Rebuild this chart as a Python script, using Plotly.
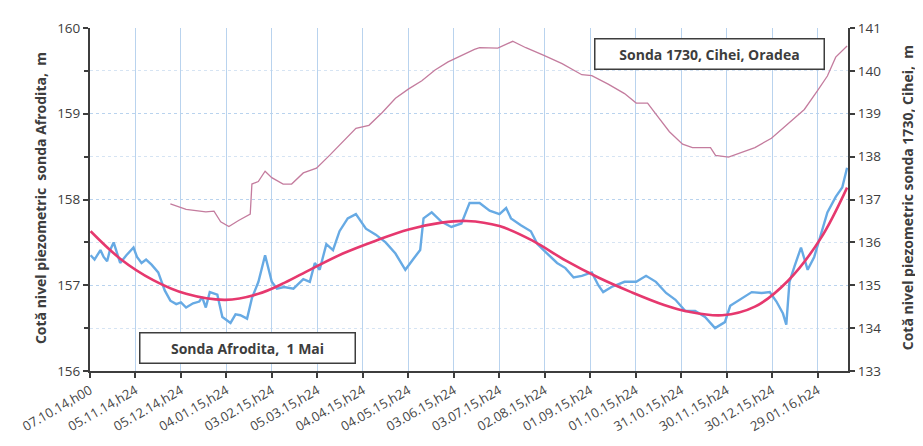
import plotly.graph_objects as go

# ---- data (x = days since 07.10.14 h00) ----
tick_days = [0, 30, 60, 90, 120, 150, 180, 210, 240, 270, 300, 330, 360, 390, 420, 450, 480]
tick_labels = ["07.10.14,h00", "05.11.14,h24", "05.12.14,h24", "04.01.15,h24", "03.02.15,h24",
               "05.03.15,h24", "04.04.15,h24", "04.05.15,h24", "03.06.15,h24", "03.07.15,h24",
               "02.08.15,h24", "01.09.15,h24", "01.10.15,h24", "31.10.15,h24", "30.11.15,h24",
               "30.12.15,h24", "29.01.16,h24"]

afrodita_days = [0.4, 3, 6.9, 9, 11.3, 13, 15.6, 18, 19.9, 24, 28.7, 31, 34, 37, 40.6, 45, 47, 49.3,
                 53, 56.9, 60, 63.4, 68, 72.1, 74, 76.4, 79, 84, 87.3, 90, 92.7, 96, 99.2, 103.6,
                 106.8, 111.1, 115.5, 119.9, 123.3, 128, 134.2, 140.7, 145, 148.3, 151.5, 155.9,
                 160.3, 164.6, 170, 175.4, 182, 188.5, 195, 201.5, 208, 213.4, 217.8, 220, 225.4,
                 231.9, 238.4, 245, 250.4, 257, 263.6, 270.1, 274.5, 277.7, 284.2, 290.8, 295.1,
                 301.6, 308.1, 313.6, 319, 324.4, 331, 335.3, 338.5, 344, 352.6, 360.3, 366.8,
                 373.3, 380, 386.2, 392.7, 399.2, 405.7, 412.3, 418.8, 422.3, 430, 436.5, 443,
                 448.4, 452.8, 457.1, 459.3, 461.4, 464.7, 469, 473.4, 477.7, 482.1, 486.4, 491.9,
                 496.2, 499.4]
afrodita_vals = [157.35, 157.30, 157.41, 157.33, 157.28, 157.40, 157.50, 157.36, 157.26, 157.35, 157.44,
                 157.33, 157.26, 157.30, 157.24, 157.15, 157.05, 156.94, 156.82, 156.78, 156.80,
                 156.74, 156.79, 156.81, 156.86, 156.74, 156.92, 156.89, 156.63, 156.60, 156.56,
                 156.66, 156.65, 156.61, 156.85, 157.04, 157.35, 157.04, 156.96, 156.98, 156.96,
                 157.07, 157.04, 157.26, 157.18, 157.48, 157.41, 157.63, 157.78, 157.83, 157.66,
                 157.59, 157.50, 157.37, 157.18, 157.31, 157.41, 157.78, 157.85, 157.74, 157.68,
                 157.72, 157.96, 157.96, 157.87, 157.83, 157.90, 157.78, 157.70, 157.63, 157.48,
                 157.37, 157.26, 157.20, 157.09, 157.11, 157.15, 157.00, 156.92, 156.98, 157.04,
                 157.04, 157.11, 157.04, 156.91, 156.83, 156.70, 156.70, 156.63, 156.50, 156.57,
                 156.76, 156.85, 156.92, 156.91, 156.92, 156.81, 156.67, 156.54, 157.04, 157.22,
                 157.44, 157.18, 157.33, 157.59, 157.85, 158.03, 158.14, 158.37]

trend_days = [0.4, 19.9, 41.7, 63.4, 89.4, 111.1, 128.5, 145, 166.8, 188.5, 210.2, 231.9, 248.4,
              270.1, 291.9, 313.6, 335.3, 357, 378.7, 395.2, 417, 438.6, 460.3, 482.1, 499.4]
trend_vals = [157.63, 157.31, 157.06, 156.90, 156.83, 156.90, 157.03, 157.18, 157.37, 157.52, 157.65,
              157.73, 157.75, 157.69, 157.52, 157.29, 157.09, 156.92, 156.77, 156.69, 156.65, 156.75,
              157.05, 157.55, 158.14]

cihei_days = [53, 63.4, 76.4, 81.8, 86.2, 91.6, 98, 105.7, 106.8, 111, 115.5, 119.9, 127.4, 133,
              140.7, 149.4, 158, 166.8, 175.4, 184, 192.8, 201.5, 210.2, 218.9, 227.6, 236.2, 245,
              253.6, 257, 269, 278.8, 287.5, 299.4, 311.4, 324.4, 331, 341.8, 352.6, 360.3, 367.8,
              373.3, 382.2, 390.9, 397.4, 409.3, 412.6, 421.2, 430, 438.6, 449.5, 460.3, 471.2,
              479.9, 486.4, 491.9, 497.3, 499.4]
cihei_vals = [136.90, 136.77, 136.71, 136.73, 136.48, 136.37, 136.51, 136.66, 137.36, 137.42, 137.66,
              137.51, 137.36, 137.36, 137.62, 137.73, 138.03, 138.36, 138.66, 138.73, 139.03, 139.36,
              139.58, 139.77, 140.02, 140.21, 140.36, 140.50, 140.54, 140.53, 140.69, 140.54, 140.36,
              140.17, 139.91, 139.89, 139.69, 139.47, 139.25, 139.25, 138.99, 138.58, 138.29, 138.21,
              138.21, 138.03, 137.99, 138.10, 138.21, 138.43, 138.77, 139.10, 139.54, 139.88, 140.32,
              140.50, 140.58]

font_family = "Open Sans, Noto Sans, sans-serif"
axis_col = "#3d3d3d"
grid_col = "#b9d3ee"

fig = go.Figure()
fig.add_trace(go.Scatter(x=cihei_days, y=cihei_vals, yaxis="y2", mode="lines",
                         line=dict(color="#c47c9e", width=1.3), name="Sonda 1730"))
fig.add_trace(go.Scatter(x=afrodita_days, y=afrodita_vals, mode="lines",
                         line=dict(color="#67aae4", width=2.4), name="Sonda Afrodita"))
fig.add_trace(go.Scatter(x=trend_days, y=trend_vals, mode="lines",
                         line=dict(color="#e6386e", width=2.6, shape="spline", smoothing=1.0),
                         name="trend"))

# the page body has an 8px default margin, so the figure is 8px smaller and offset
fig.update_layout(
    width=915, height=438,
    margin=dict(l=73, r=75, t=11, b=66),
    paper_bgcolor="white", plot_bgcolor="white",
    showlegend=False,
    font=dict(family=font_family, color="#3d3d3d"),
    xaxis=dict(range=[0, 500], tickvals=tick_days, ticktext=tick_labels, tickangle=-30,
               showline=True, linecolor=axis_col, linewidth=2, ticks="outside", ticklen=5,
               tickcolor=axis_col, tickwidth=1.5, showgrid=True, gridcolor=grid_col, gridwidth=1,
               zeroline=False, ticklabeloverflow="allow",
               tickfont=dict(size=13, color="#454545")),
    yaxis=dict(range=[156, 160], tickvals=[156, 157, 158, 159, 160], showline=True,
               linecolor=axis_col, linewidth=2, ticks="outside", ticklen=5, tickcolor=axis_col,
               tickwidth=1.5, showgrid=True, gridcolor=grid_col, gridwidth=1, griddash="dot",
               zeroline=False,
               minor=dict(dtick=0.5, ticks="outside", ticklen=4, tickcolor=axis_col, showgrid=True,
                          gridcolor="#d6e4f3", griddash="dot"),
               tickfont=dict(size=13.5, color="#3d3d3d")),
    yaxis2=dict(range=[133, 141], dtick=1, overlaying="y", side="right", showline=True,
                linecolor=axis_col, linewidth=2, ticks="outside", ticklen=5, tickcolor=axis_col,
                tickwidth=1.5, showgrid=False, zeroline=False,
                tickfont=dict(size=13.5, color="#3d3d3d")),
)

fig.add_annotation(text="<b>Cotă nivel piezometric  sonda Afrodita,  m</b>", xref="paper", yref="paper",
                   x=-0.066, y=0.504, xanchor="center", yanchor="middle", textangle=-90,
                   showarrow=False, font=dict(size=14, color="#3d3d3d", family=font_family))
fig.add_annotation(text="<b>Cotă nivel piezometric sonda 1730, Cihei,  m</b>", xref="paper", yref="paper",
                   x=1.078, y=0.504, xanchor="center", yanchor="middle", textangle=-90,
                   showarrow=False, font=dict(size=14, color="#3d3d3d", family=font_family))

fig.add_annotation(text="<b>Sonda Afrodita,  1 Mai</b>", xref="paper", yref="paper",
                   x=0.2073, y=0.0665, xanchor="center", yanchor="middle", showarrow=False,
                   bgcolor="white", bordercolor="#3d3d3d", borderwidth=1.5, width=210, height=25,
                   borderpad=2, font=dict(size=14, color="#3d3d3d", family=font_family))
fig.add_annotation(text="<b>Sonda 1730, Cihei, Oradea</b>", xref="paper", yref="paper",
                   x=0.8175, y=0.925, xanchor="center", yanchor="middle", showarrow=False,
                   bgcolor="white", bordercolor="#3d3d3d", borderwidth=1.5, width=224, height=25,
                   borderpad=2, font=dict(size=14, color="#3d3d3d", family=font_family))

fig.write_html("out.html")
